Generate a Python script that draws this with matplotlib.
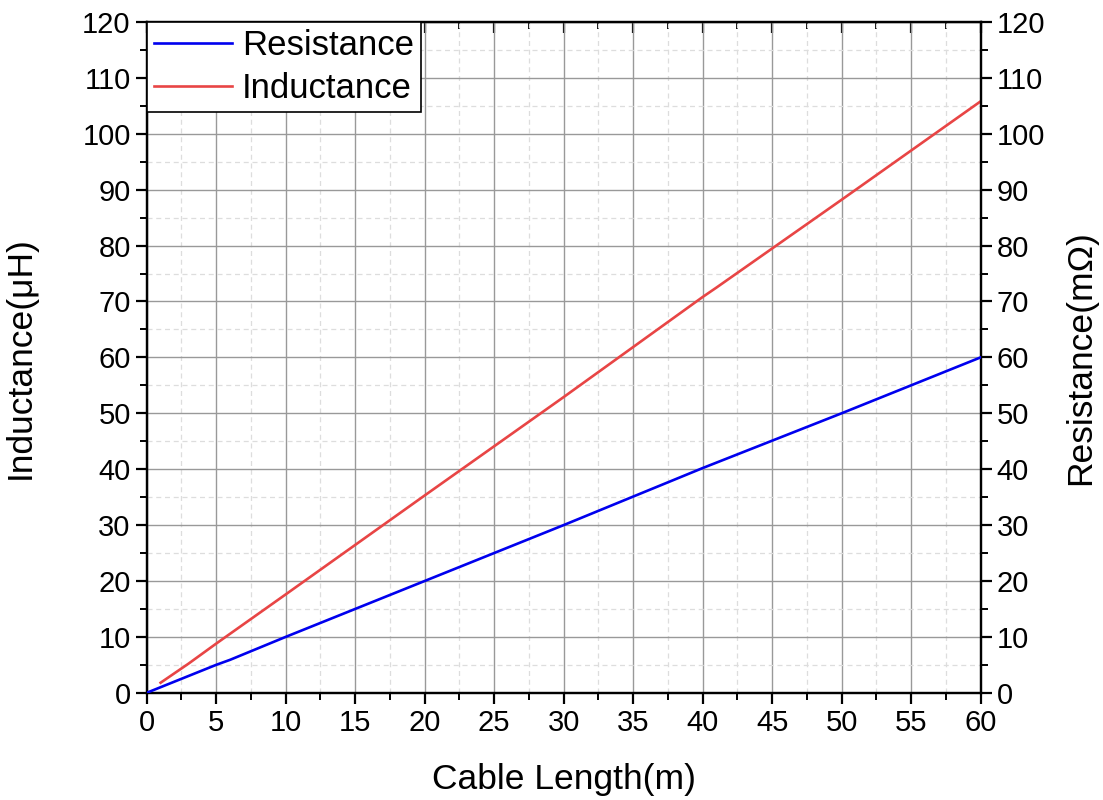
import numpy as np
import matplotlib.pyplot as plt
from matplotlib.ticker import MultipleLocator

plt.rcParams['font.family'] = ['Liberation Sans', 'DejaVu Sans']

# data
res_len = [0, 5, 6, 10, 20, 30, 40, 50, 60]
res_val = [0, 5.0, 5.9, 10.0, 20.0, 30.0, 40.2, 50.0, 60.0]

ind_len = [1, 3, 5, 10, 20, 30, 40, 41, 50, 60]
ind_val = [1.8, 5.2, 8.8, 17.6, 35.3, 52.9, 70.8, 72.5, 88.2, 105.8]

fig = plt.figure(figsize=(11.03, 8), dpi=100)
ax = fig.add_subplot(111)
fig.subplots_adjust(left=0.133, right=0.889, top=0.9725, bottom=0.134)
ax2 = ax.twinx()

l_ind, = ax.plot(ind_len, ind_val, color='#e84545', lw=1.9, label='Inductance', zorder=3)
l_res, = ax2.plot(res_len, res_val, color='#0000ee', lw=1.9, label='Resistance', zorder=3)

for a in (ax, ax2):
    a.set_xlim(0, 60)
    a.set_ylim(0, 120)
    a.yaxis.set_major_locator(MultipleLocator(10))
    a.yaxis.set_minor_locator(MultipleLocator(5))
    for s in a.spines.values():
        s.set_linewidth(1.6)

ax.xaxis.set_major_locator(MultipleLocator(5))
ax.xaxis.set_minor_locator(MultipleLocator(2.5))

ax.grid(which='major', color='#999999', lw=1.0)
ax.grid(which='minor', color='#dddddd', lw=0.9, ls=(0, (4, 3)))
ax.set_axisbelow(True)

ax.tick_params(which='major', direction='out', length=8, width=1.6, labelsize=21)
ax.tick_params(which='minor', direction='out', length=5, width=1.4)
ax2.tick_params(which='major', direction='out', length=8, width=1.6, labelsize=21)
ax2.tick_params(which='minor', direction='out', length=5, width=1.4)

# top ticks point inward
sec = ax.secondary_xaxis('top')
sec.xaxis.set_major_locator(MultipleLocator(5))
sec.xaxis.set_minor_locator(MultipleLocator(2.5))
sec.tick_params(which='major', direction='in', length=8, width=1.6, labeltop=False)
sec.tick_params(which='minor', direction='in', length=5, width=1.4)
ax.tick_params(axis='x', which='both', top=False)

ax.set_xlabel('Cable Length(m)', fontsize=25.5, labelpad=19)
ax.set_ylabel('Inductance(\u03bcH)', fontsize=25.5, labelpad=33)
ax2.set_ylabel('Resistance(m\u03a9)', fontsize=25.5, labelpad=14)

leg = ax2.legend(handles=[l_res, l_ind], loc='upper left', fontsize=25,
                 fancybox=False, framealpha=1, edgecolor='black',
                 borderaxespad=0, handlelength=2.25, handletextpad=0.3,
                 borderpad=0.2, labelspacing=0.3)
leg.get_frame().set_linewidth(1.2)

fig.savefig('out.png', dpi=100)
